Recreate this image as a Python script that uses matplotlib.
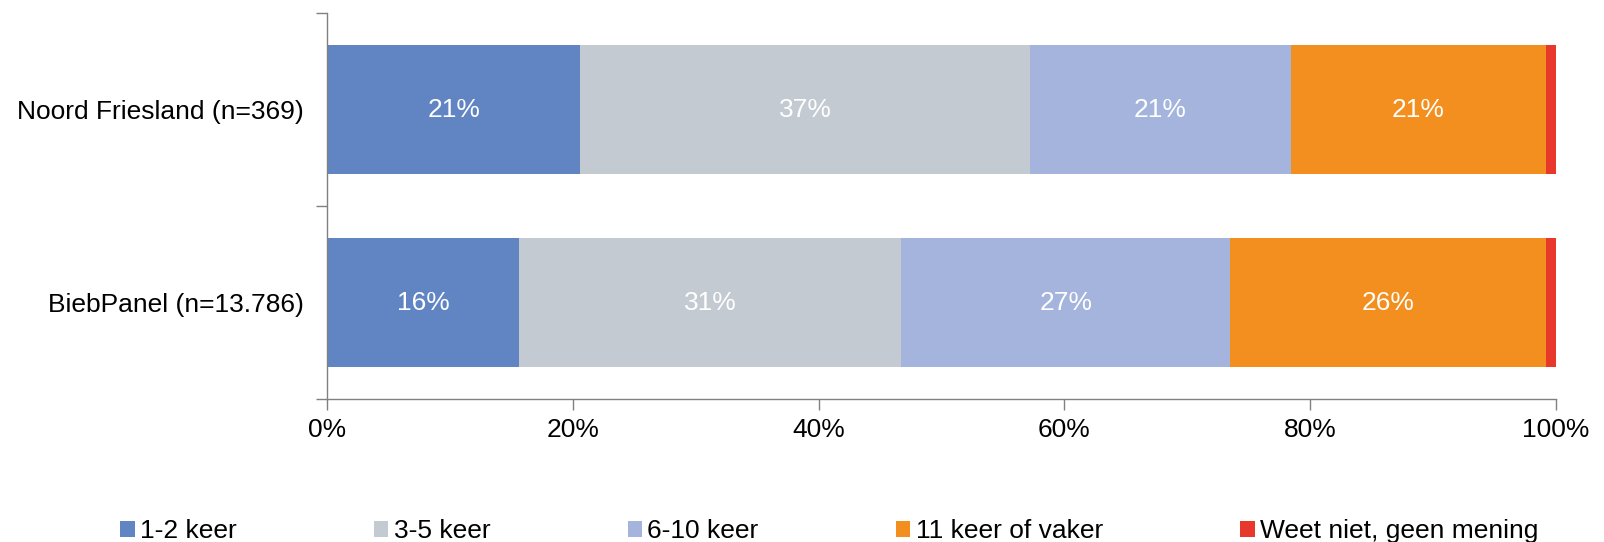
import numpy as np
import matplotlib
matplotlib.use("Agg")
import matplotlib.pyplot as plt

plt.rcParams['font.family'] = ['Liberation Sans', 'DejaVu Sans']

# Groups (top to bottom) and answer categories
groups = ['Noord Friesland (n=369)', 'BiebPanel (n=13.786)']
categories = ['1-2 keer', '3-5 keer', '6-10 keer', '11 keer of vaker',
              'Weet niet, geen mening']
colors = ['#6185C3', '#C4CAD1', '#A4B4DC', '#F28F1E', '#E8372B']

# Percentages per category, one value per group
pct_12 = [20.6, 15.6]
pct_35 = [36.6, 31.1]
pct_610 = [21.2, 26.8]
pct_11 = [20.8, 25.7]
pct_wn = [0.8, 0.8]
series = [pct_12, pct_35, pct_610, pct_11, pct_wn]

fs = 19

fig = plt.figure(figsize=(16.04, 5.42), dpi=100)
ax = fig.add_axes([0.2039, 0.2638, 0.7662, 0.7122])

ypos = np.array([1, 0])
left = np.zeros(len(groups))
for vals, col, name in zip(series, colors, categories):
    vals = np.array(vals)
    ax.barh(ypos, vals, left=left, height=0.668, color=col, label=name)
    if name != categories[-1]:
        for y, l, v in zip(ypos, left, vals):
            ax.text(l + v / 2, y, f'{v:.0f}%', ha='center', va='center',
                    color='white', fontsize=fs)
    left += vals

ax.set_xlim(0, 100)
ax.set_ylim(-0.5, 1.5)
ax.set_xticks(np.arange(0, 101, 20))
ax.set_xticklabels([f'{t}%' for t in range(0, 101, 20)])
ax.set_yticks([-0.5, 0.5, 1.5])
ax.set_yticklabels([])
ax.set_yticks(ypos, minor=True)
ax.set_yticklabels(groups, minor=True)
ax.tick_params(axis='y', which='minor', length=0, pad=17, labelsize=fs)
ax.tick_params(axis='y', which='major', length=8, width=1, color='#808080')
ax.tick_params(axis='x', length=8, width=1, color='#808080', labelsize=fs,
               pad=6)
for s in ['top', 'right']:
    ax.spines[s].set_visible(False)
for s in ['left', 'bottom']:
    ax.spines[s].set_color('#808080')
    ax.spines[s].set_linewidth(1)

fig.legend(loc='center', bbox_to_anchor=(0.517, 0.02), ncol=5, frameon=False,
           fontsize=fs, handlelength=0.55, handleheight=0.55,
           handletextpad=0.2, columnspacing=5.2)

fig.savefig('out.png', dpi=100)
